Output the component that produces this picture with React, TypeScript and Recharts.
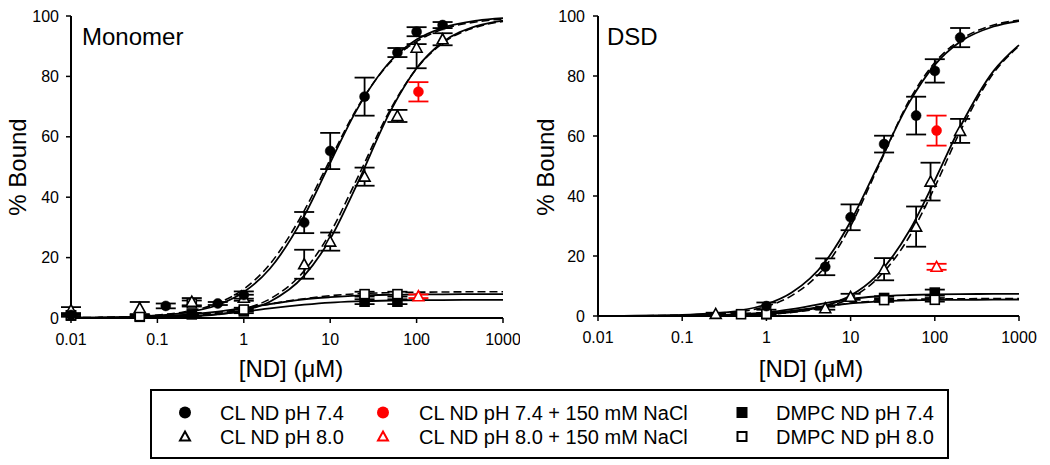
import React from 'react';
import { ComposedChart, Line, Scatter, XAxis, YAxis, ErrorBar } from 'recharts';

const FONT = '"Liberation Sans", Arial, Helvetica, sans-serif';

// ---------- axis ticks ----------
const xTicks = [0.01, 0.1, 1, 10, 100, 1000];
const yTicks = [0, 20, 40, 60, 80, 100];

// ---------- fitted curve sample positions ----------
const fitX = [0.01, 0.02, 0.05, 0.1, 0.2, 0.5, 1, 2, 5, 10, 20, 50, 100, 200, 500, 1000];

// ---------- Monomer panel: measured points ----------
const monoCL74X = [0.01, 0.125, 0.5, 1, 5, 10, 25, 60, 100, 200];
const monoCL74Y = [1.0, 4.0, 4.8, 7.6, 31.6, 55.3, 73.3, 87.9, 94.8, 97.0];
const monoCL74E = [0.5, 0.8, 0.5, 1.2, 3.5, 6.0, 6.3, 1.5, 1.5, 1.0];

const monoCL80X = [0.01, 0.0625, 0.25, 1, 5, 10, 25, 60, 100, 200];
const monoCL80Y = [2.6, 3.3, 5.4, 6.7, 17.8, 25.3, 46.8, 66.9, 89.5, 92.3];
const monoCL80E: (number | number[])[] = [1.0, 2.0, 1.2, 1.0, 4.8, 3.0, 3.0, 2.0, [6.8, 1.2], 2.0];

const monoCL74NaX = [105];
const monoCL74NaY = [74.9];
const monoCL74NaE = [3.2];

const monoCL80NaX = [105];
const monoCL80NaY = [7.2];
const monoCL80NaE = [0.6];

const monoDM74X = [0.01, 0.0625, 0.25, 1, 25, 60];
const monoDM74Y = [0.8, 0.4, 1.2, 2.2, 5.4, 5.4];
const monoDM74E = [0.3, 0.3, 0.5, 0.6, 0.8, 0.8];

const monoDM80X = [0.01, 0.0625, 0.25, 1, 25, 60];
const monoDM80Y = [0.9, 0.6, 4.8, 2.8, 7.9, 7.9];
const monoDM80E = [0.3, 0.4, 1.0, 0.6, 0.8, 0.8];

// ---------- Monomer panel: fitted curves ----------
const monoFit74Solid = [0.07, 0.15, 0.4, 0.83, 1.7, 4.3, 8.6, 16.3, 33.8, 51.4, 68.6, 85.1, 92.2, 96.1, 98.5, 99.3];
const monoFit74Dash = [0.09, 0.18, 0.48, 0.98, 2.0, 4.9, 9.6, 17.8, 35.5, 52.5, 69.0, 84.8, 91.6, 95.6, 98.1, 99.0];
const monoFit80Solid = [0.01, 0.03, 0.09, 0.2, 0.43, 1.2, 2.5, 5.4, 14.0, 26.2, 43.7, 68.6, 82.7, 91.3, 96.7, 98.5];
const monoFit80Dash = [0.02, 0.04, 0.12, 0.26, 0.55, 1.5, 3.0, 6.3, 15.6, 28.2, 45.5, 69.2, 82.6, 91.0, 96.4, 98.2];
const monoFitDM80Solid = [0.06, 0.11, 0.27, 0.53, 1.0, 2.1, 3.3, 4.6, 6.2, 6.9, 7.4, 7.7, 7.8, 7.85, 7.9, 7.9];
const monoFitDM80Dash = [0.05, 0.1, 0.24, 0.46, 0.87, 1.9, 3.1, 4.6, 6.4, 7.4, 8.0, 8.4, 8.55, 8.6, 8.7, 8.7];
const monoFitDM74Solid = [0.03, 0.07, 0.16, 0.32, 0.6, 1.3, 2.1, 3.2, 4.4, 5.1, 5.5, 5.8, 5.9, 5.95, 6.0, 6.0];

// ---------- DSD panel: measured points ----------
const dsdCL74X = [1, 5, 10, 25, 60, 100, 200];
const dsdCL74Y = [3.3, 16.4, 32.9, 57.3, 66.8, 81.7, 92.8];
const dsdCL74E = [1.2, 2.8, 4.3, 2.8, 6.3, 3.9, 3.2];

const dsdCL80X = [0.25, 5, 10, 25, 60, 89, 200];
const dsdCL80Y = [0.7, 2.6, 6.4, 15.6, 29.8, 44.8, 61.7];
const dsdCL80E = [0.4, 0.5, 1.0, 3.7, 6.7, 6.3, 4.0];

const dsdCL74NaX = [105];
const dsdCL74NaY = [61.8];
const dsdCL74NaE = [5.0];

const dsdCL80NaX = [105];
const dsdCL80NaY = [16.4];
const dsdCL80NaE = [1.0];

const dsdDM74X = [1, 25, 100];
const dsdDM74Y = [0.6, 6.0, 7.8];
const dsdDM74E = [0.4, 0.6, 1.0];

const dsdDM80X = [0.5, 1, 25, 100];
const dsdDM80Y = [0.6, 0.7, 5.3, 5.4];
const dsdDM80E = [0.3, 0.3, 0.6, 0.6];

// ---------- DSD panel: fitted curves ----------
const dsdFit74Solid = [0.03, 0.07, 0.18, 0.36, 0.75, 1.9, 3.9, 7.8, 18.1, 31.5, 48.7, 71.3, 83.7, 91.4, 96.5, 98.3];
const dsdFit74Dash = [0.02, 0.05, 0.13, 0.28, 0.6, 1.5, 3.2, 6.8, 16.5, 30.0, 48.0, 72.0, 84.5, 92.0, 97.0, 98.6];
const dsdFit80Solid = [0.005, 0.01, 0.03, 0.06, 0.12, 0.3, 0.65, 1.3, 3.4, 6.8, 13.2, 28.5, 45.2, 63.0, 81.7, 90.3];
const dsdFit80Dash = [0.004, 0.01, 0.025, 0.05, 0.1, 0.27, 0.58, 1.2, 3.0, 6.0, 12.0, 26.5, 43.0, 61.5, 81.0, 90.0];
const dsdFitDM74Solid = [0.0, 0.01, 0.04, 0.1, 0.2, 0.6, 1.2, 2.3, 4.3, 5.7, 6.5, 7.0, 7.2, 7.3, 7.35, 7.4];
const dsdFitDM80Solid = [0.0, 0.01, 0.03, 0.08, 0.18, 0.5, 0.9, 1.7, 3.2, 4.2, 4.8, 5.2, 5.35, 5.4, 5.45, 5.5];
const dsdFitDM80Dash = [0.0, 0.01, 0.03, 0.07, 0.16, 0.42, 0.8, 1.6, 3.1, 4.3, 5.0, 5.5, 5.7, 5.75, 5.8, 5.8];

// ---------- legend ----------
const legendLabels = [
  'CL ND pH 7.4', 'CL ND pH 8.0',
  'CL ND pH 7.4 + 150 mM NaCl', 'CL ND pH 8.0 + 150 mM NaCl',
  'DMPC ND pH 7.4', 'DMPC ND pH 8.0',
];

type Pt = { x: number; y: number; e: number | number[] };
const pts = (xs: number[], ys: number[], es: (number | number[])[]): Pt[] =>
  xs.map((x, i) => ({ x, y: ys[i], e: es[i] }));
const curve = (ys: number[]) => fitX.map((x, i) => ({ x, y: ys[i] }));

// ---------- marker shapes ----------
const dotShape = (color: string, r = 5) => (p: any) => (
  <circle cx={p.cx} cy={p.cy} r={r} fill={color} stroke={color} strokeWidth={0.5} />
);
const triShape = (color: string) => (p: any) => (
  <polygon
    points={`${p.cx},${p.cy - 5.5} ${p.cx + 5.5},${p.cy + 4.5} ${p.cx - 5.5},${p.cy + 4.5}`}
    fill="#fff"
    stroke={color}
    strokeWidth={1.6}
  />
);
const sqShape = (fill: string) => (p: any) => (
  <rect x={p.cx - 4.5} y={p.cy - 4.5} width={9} height={9} fill={fill} stroke="#000" strokeWidth={1.6} />
);

const axisLine = { stroke: '#000', strokeWidth: 2 };
const tickStyle = { fill: '#000', fontSize: 16, fontFamily: FONT };

type Series = { data: Pt[]; shape: any; errColor: string };
type Panel = {
  curvesSolid: number[][];
  curvesDash: number[][];
  series: Series[];
};

const monoPanel: Panel = {
  curvesSolid: [monoFit74Solid, monoFit80Solid, monoFitDM80Solid, monoFitDM74Solid],
  curvesDash: [monoFit74Dash, monoFit80Dash, monoFitDM80Dash],
  series: [
    { data: pts(monoDM74X, monoDM74Y, monoDM74E), shape: sqShape('#000'), errColor: '#000' },
    { data: pts(monoDM80X, monoDM80Y, monoDM80E), shape: sqShape('#fff'), errColor: '#000' },
    { data: pts(monoCL80X, monoCL80Y, monoCL80E), shape: triShape('#000'), errColor: '#000' },
    { data: pts(monoCL74X, monoCL74Y, monoCL74E), shape: dotShape('#000'), errColor: '#000' },
    { data: pts(monoCL74NaX, monoCL74NaY, monoCL74NaE), shape: dotShape('#f00'), errColor: '#f00' },
    { data: pts(monoCL80NaX, monoCL80NaY, monoCL80NaE), shape: triShape('#f00'), errColor: '#f00' },
  ],
};

const dsdPanel: Panel = {
  curvesSolid: [dsdFit74Solid, dsdFit80Solid, dsdFitDM74Solid, dsdFitDM80Solid],
  curvesDash: [dsdFit74Dash, dsdFit80Dash, dsdFitDM80Dash],
  series: [
    { data: pts(dsdDM74X, dsdDM74Y, dsdDM74E), shape: sqShape('#000'), errColor: '#000' },
    { data: pts(dsdDM80X, dsdDM80Y, dsdDM80E), shape: sqShape('#fff'), errColor: '#000' },
    { data: pts(dsdCL80X, dsdCL80Y, dsdCL80E), shape: triShape('#000'), errColor: '#000' },
    { data: pts(dsdCL74X, dsdCL74Y, dsdCL74E), shape: dotShape('#000'), errColor: '#000' },
    { data: pts(dsdCL74NaX, dsdCL74NaY, dsdCL74NaE), shape: dotShape('#f00'), errColor: '#f00' },
    { data: pts(dsdCL80NaX, dsdCL80NaY, dsdCL80NaE), shape: triShape('#f00'), errColor: '#f00' },
  ],
};

function PanelChart({ panel, width, height, margin, yWidth, yTickMargin }: {
  panel: Panel; width: number; height: number;
  margin: { top: number; right: number; bottom: number; left: number };
  yWidth: number; yTickMargin: number;
}) {
  return (
    <ComposedChart width={width} height={height} margin={margin}>
      <XAxis
        dataKey="x"
        type="number"
        scale="log"
        domain={[0.01, 1000]}
        ticks={xTicks}
        tickFormatter={(v: number) => String(v)}
        axisLine={axisLine}
        tickLine={{ stroke: '#000', strokeWidth: 1.5 }}
        tickSize={5}
        tickMargin={11}
        height={30}
        tick={tickStyle}
        interval={0}
      />
      <XAxis
        xAxisId="top"
        orientation="top"
        type="number"
        scale="log"
        domain={[0.01, 1000]}
        height={0}
        tick={false}
        tickLine={false}
        axisLine={axisLine}
      />
      <YAxis
        type="number"
        domain={[0, 100]}
        ticks={yTicks}
        axisLine={axisLine}
        tickLine={{ stroke: '#000', strokeWidth: 1.5 }}
        tickSize={5}
        tickMargin={yTickMargin}
        width={yWidth}
        tick={tickStyle}
        interval={0}
      />
      <YAxis
        yAxisId="right"
        orientation="right"
        type="number"
        domain={[0, 100]}
        width={0}
        tick={false}
        tickLine={false}
        axisLine={axisLine}
      />
      {panel.curvesDash.map((c, i) => (
        <Line
          key={'d' + i}
          data={curve(c)}
          dataKey="y"
          type="monotone"
          stroke="#000"
          strokeWidth={1.6}
          strokeDasharray="8 4"
          dot={false}
          activeDot={false}
          isAnimationActive={false}
        />
      ))}
      {panel.curvesSolid.map((c, i) => (
        <Line
          key={'s' + i}
          data={curve(c)}
          dataKey="y"
          type="monotone"
          stroke="#000"
          strokeWidth={1.8}
          dot={false}
          activeDot={false}
          isAnimationActive={false}
        />
      ))}
      {panel.series.map((s, i) => (
        <Scatter key={'p' + i} data={s.data} dataKey="y" shape={s.shape} isAnimationActive={false}>
          <ErrorBar dataKey="e" direction="y" width={10} stroke={s.errColor} strokeWidth={1.8} />
        </Scatter>
      ))}
    </ComposedChart>
  );
}

function LegendMarker({ idx, cx, cy }: { idx: number; cx: number; cy: number }) {
  if (idx === 0) return <circle cx={cx} cy={cy} r={6} fill="#000" />;
  if (idx === 2) return <circle cx={cx} cy={cy} r={6} fill="#f00" />;
  if (idx === 1 || idx === 3) {
    const c = idx === 1 ? '#000' : '#f00';
    return (
      <polygon
        points={`${cx},${cy - 5} ${cx + 5},${cy + 4} ${cx - 5},${cy + 4}`}
        fill="#fff"
        stroke={c}
        strokeWidth={2}
      />
    );
  }
  return (
    <rect x={cx - 4.5} y={cy - 4.5} width={9} height={9} fill={idx === 4 ? '#000' : '#fff'} stroke="#000" strokeWidth={2} />
  );
}

export default function App() {
  const markerX = [185, 185, 383, 383, 742, 742];
  const textX = [220, 220, 419, 419, 776, 776];
  const rowY = [412.5, 436.5];
  return (
    <div style={{ position: 'absolute', left: 0, top: 0, width: 1050, height: 465, background: '#fff', fontFamily: FONT }}>
      <div style={{ position: 'absolute', left: 0, top: 0 }}>
        <PanelChart
          panel={monoPanel}
          width={520}
          height={400}
          margin={{ top: 16, right: 17, bottom: 52, left: 0 }}
          yWidth={71}
          yTickMargin={7}
        />
      </div>
      <div style={{ position: 'absolute', left: 520, top: 0 }}>
        <PanelChart
          panel={dsdPanel}
          width={530}
          height={400}
          margin={{ top: 16, right: 31, bottom: 54, left: 0 }}
          yWidth={78}
          yTickMargin={8}
        />
      </div>
      <svg
        width={1050}
        height={465}
        style={{ position: 'absolute', left: 0, top: 0, pointerEvents: 'none' }}
        fontFamily={FONT}
      >
        <text x={82} y={45} fontSize={24} fill="#000">Monomer</text>
        <text x={607} y={45} fontSize={24} fill="#000">DSD</text>
        <text x={26} y={167} fontSize={24} fill="#000" textAnchor="middle" transform="rotate(-90 26 167)">% Bound</text>
        <text x={554} y={167} fontSize={24} fill="#000" textAnchor="middle" transform="rotate(-90 554 167)">% Bound</text>
        <text x={291} y={377} fontSize={24} fill="#000" textAnchor="middle">[ND] (μM)</text>
        <text x={811} y={377} fontSize={24} fill="#000" textAnchor="middle">[ND] (μM)</text>
        <rect x={151} y={390} width={797} height={68} fill="#fff" stroke="#000" strokeWidth={2} />
        {legendLabels.map((lab, i) => (
          <g key={lab}>
            <LegendMarker idx={i} cx={markerX[i]} cy={rowY[i % 2]} />
            <text x={textX[i]} y={rowY[i % 2] + 7} fontSize={20} fill="#000">{lab}</text>
          </g>
        ))}
      </svg>
    </div>
  );
}
